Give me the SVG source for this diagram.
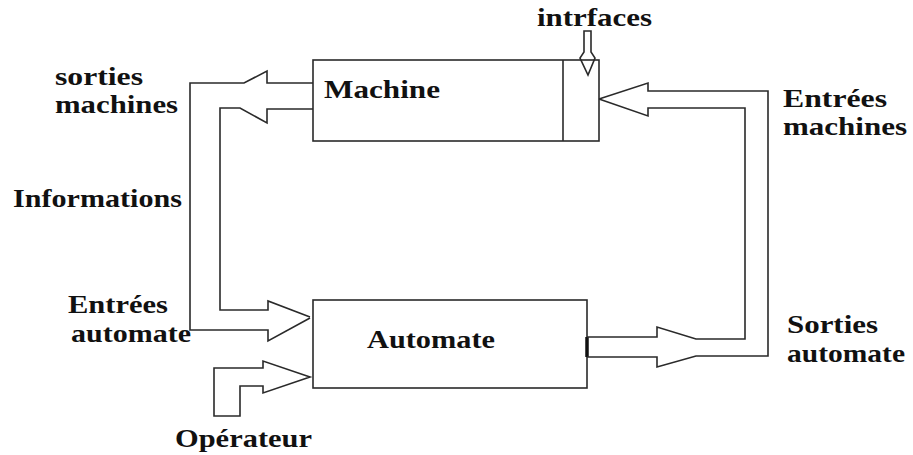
<svg xmlns="http://www.w3.org/2000/svg" width="913" height="455" viewBox="0 0 913 455">
<style>
.ln{fill:none;stroke:#2a2a2a;stroke-width:1.6;stroke-linejoin:miter}
.bx{fill:none;stroke:#2a2a2a;stroke-width:1.6}
.t{font-family:"Liberation Serif","Times New Roman",serif;font-weight:bold;font-size:25px;fill:#111}
</style>
<rect width="913" height="455" fill="#fff"/>
<g id="machine">
<rect class="bx" x="313" y="60" width="286" height="81"/>
<line class="ln" x1="563" y1="60" x2="563" y2="141"/>
<text class="t" x="324" y="98" textLength="116" lengthAdjust="spacingAndGlyphs">Machine</text>
</g>
<g id="automate">
<rect class="bx" x="313" y="300" width="274" height="88"/>
<line x1="587" y1="337" x2="587" y2="357" stroke="#111" stroke-width="3.5"/>
<text class="t" x="367" y="348" textLength="128" lengthAdjust="spacingAndGlyphs">Automate</text>
</g>
<g id="connectors">
<path class="ln" d="M313,83 H267 V71 L244,83 H190 V330 H268 V341 L310,318"/>
<path class="ln" d="M313,109 H267 V123 L240,108 H220 V310 H268 V301 L310,317"/>
<path class="ln" d="M214,368 H263 V361 L310,377 L263,393 V386 H240 V416 H214 Z"/>
<path class="ln" d="M587,337 H657 V327 L696,339 H745 V108 H648 V116 L599,99"/>
<path class="ln" d="M587,357 H657 V367 L696,356 H768 V91 H648 V83 L599,99"/>
<path class="ln" d="M584,31 H591 V52 L595,58 L588,75 L580,58 L584,52 Z"/>
</g>
<g id="labels">
<text class="t" x="537" y="26" textLength="115" lengthAdjust="spacingAndGlyphs">intrfaces</text>
<text class="t" x="55" y="85" textLength="88" lengthAdjust="spacingAndGlyphs">sorties</text>
<text class="t" x="55" y="113" textLength="123" lengthAdjust="spacingAndGlyphs">machines</text>
<text class="t" x="13" y="207" textLength="169" lengthAdjust="spacingAndGlyphs">Informations</text>
<text class="t" x="68" y="313" textLength="100" lengthAdjust="spacingAndGlyphs">Entrées</text>
<text class="t" x="71" y="342" textLength="120" lengthAdjust="spacingAndGlyphs">automate</text>
<text class="t" x="783" y="107" textLength="104" lengthAdjust="spacingAndGlyphs">Entrées</text>
<text class="t" x="783" y="135" textLength="124" lengthAdjust="spacingAndGlyphs">machines</text>
<text class="t" x="787" y="333" textLength="91" lengthAdjust="spacingAndGlyphs">Sorties</text>
<text class="t" x="787" y="362" textLength="118" lengthAdjust="spacingAndGlyphs">automate</text>
<text class="t" x="175" y="447" textLength="137" lengthAdjust="spacingAndGlyphs">Opérateur</text>
</g>
</svg>
